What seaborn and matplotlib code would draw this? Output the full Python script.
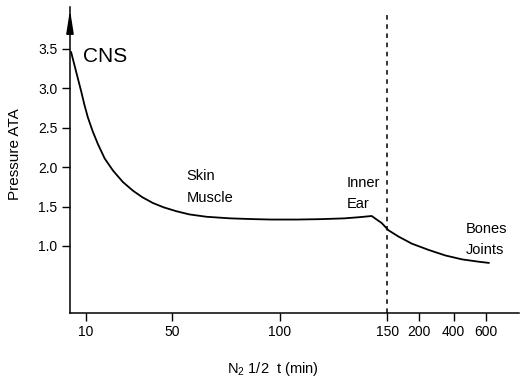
import numpy as np
import matplotlib
matplotlib.use("Agg")
import matplotlib.pyplot as plt
import seaborn as sns
import pandas as pd

# ---- data ----
half_time = [3.0, 4.5, 6.1, 7.7, 9.2, 10.8, 13.1, 15.5, 18.6, 22.5, 27.1, 31.8,
             36, 41, 46, 52, 58, 66, 77, 88, 96, 108, 119, 130, 137, 142.7,
             147.4, 151.6, 167.7, 189, 257, 352, 452, 556, 619]
pressure = [3.46, 3.30, 3.13, 2.96, 2.79, 2.63, 2.45, 2.29, 2.11, 1.955, 1.81, 1.70,
            1.62, 1.545, 1.49, 1.44, 1.40, 1.37, 1.35, 1.34, 1.335, 1.335, 1.34, 1.35,
            1.365, 1.38, 1.29, 1.20, 1.12, 1.03, 0.95, 0.88, 0.83, 0.80, 0.785]
x_ticks = [10, 50, 100, 150, 200, 400, 600]
y_ticks = [1.0, 1.5, 2.0, 2.5, 3.0, 3.5]
y_tick_labels = ["1.0", "1.5", "2.0", "2.5", "3.0", "3.5"]
threshold = 150
labels = ["CNS", "Skin", "Muscle", "Inner", "Ear", "Bones", "Joints"]
label_x = [8.6, 56.7, 56.7, 131, 131, 475, 475]
label_y = [3.40, 1.89, 1.61, 1.80, 1.53, 1.22, 0.95]
label_size = [15, 10.5, 10.5, 10.5, 10.5, 10.5, 10.5]

# piecewise axis (linear to 150, compressed beyond)
knots_v = [0, 150, 200, 400, 600, 1200]
knots_u = [0, 150, 164.5, 180.8, 195.8, 240.8]

def fwd(v):
    return np.interp(v, knots_v, knots_u)

def inv(u):
    return np.interp(u, knots_u, knots_v)

sns.set_theme(style="ticks")
plt.rcParams["font.family"] = ["Liberation Sans", "DejaVu Sans"]
plt.rcParams["mathtext.fontset"] = "custom"
plt.rcParams["mathtext.rm"] = "Liberation Sans"
plt.rcParams["mathtext.it"] = "Liberation Sans:italic"

fig = plt.figure(figsize=(5.2, 3.78), dpi=100)
ax = fig.add_axes([70 / 520, 1 - 313 / 378, (519 - 70) / 520, (313 - 7) / 378])

df = pd.DataFrame({"t": half_time, "p": pressure})
sns.lineplot(data=df, x="t", y="p", ax=ax, color="black", lw=1.3,
             estimator=None, sort=False)

ax.set_xscale("function", functions=(fwd, inv))
ax.set_xlim(2.5, 805)
ax.set_ylim(0.15, 4.03)
ax.set_xticks(x_ticks)
ax.set_xticklabels([str(t) for t in x_ticks])
ax.xaxis.set_minor_locator(matplotlib.ticker.NullLocator())
ax.set_yticks(y_ticks)
ax.set_yticklabels(y_tick_labels)

ax.axvline(threshold, ymin=0, ymax=(313 - 13) / 306, color="black", lw=1.1,
           ls=(0, (3, 3)))

for s in ["top", "right"]:
    ax.spines[s].set_visible(False)
for s in ["left", "bottom"]:
    ax.spines[s].set_linewidth(1.1)
    ax.spines[s].set_color("black")

ax.tick_params(axis="both", colors="black", labelsize=10, width=1.0,
               length=6, direction="out", pad=3)

# arrow head on y axis
ax.annotate("", xy=(0, 1.0), xytext=(0, 0.93), xycoords="axes fraction",
            arrowprops=dict(arrowstyle="-|>,head_length=1.4,head_width=0.22",
                            color="black", lw=1.1, mutation_scale=10),
            annotation_clip=False)

for txt, x, y, fs in zip(labels, label_x, label_y, label_size):
    ax.text(x, y, txt, fontsize=fs, ha="left", va="center", color="black")

ax.set_ylabel("Pressure ATA", fontsize=11, color="black")
ax.yaxis.set_label_coords(-0.107, 0.518)
ax.set_xlabel(r"N$_{2}$ 1/2  t (min)", fontsize=10.5, color="black")
ax.xaxis.set_label_coords(0.451, -0.155)

fig.savefig("out.png", dpi=100)
